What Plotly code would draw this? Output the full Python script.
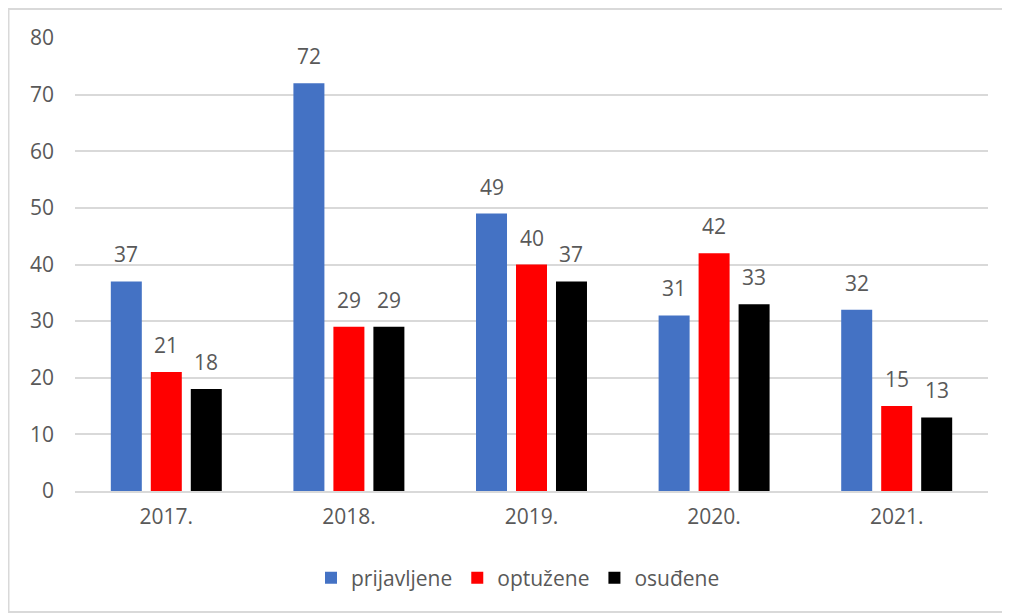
import plotly.graph_objects as go

years = ["2017.", "2018.", "2019.", "2020.", "2021."]
prijavljene = [37, 72, 49, 31, 32]
optuzene = [21, 29, 40, 42, 15]
osudjene = [18, 29, 37, 33, 13]
series_names = ["prijavljene", "optužene", "osuđene"]
colors = ["#4472C4", "#FF0000", "#000000"]
y_ticks = [0, 10, 20, 30, 40, 50, 60, 70, 80]

# page is offset by the 8px body margin
OFF = 8
W, H = 1010 - OFF, 616 - OFF
L, R, T, B = 75 - OFF, 22, 38 - OFF, 125
pw, ph = W - L - R, H - T - B

def px_x(x):  # page px -> paper
    return (x - OFF - L) / pw

def px_y(y):
    return (H - B - (y - OFF)) / ph

font_color = "#595959"
fnt = "Open Sans"
FS = 21

cat_w = pw / len(years)
bargap = 0.343
slot = cat_w * (1 - bargap) / 3

fig = go.Figure()
annotations = []
for i, (name, vals, col) in enumerate(zip(series_names, [prijavljene, optuzene, osudjene], colors)):
    fig.add_trace(go.Bar(
        x=years, y=vals, name=name, marker_color=col, marker_line_width=0,
    ))
    for k, v in enumerate(vals):
        annotations.append(dict(
            x=k, y=v, xref="x", yref="y", text=str(v), showarrow=False,
            xanchor="center", yanchor="bottom", xshift=(i - 1) * slot, yshift=11,
            font=dict(size=FS, color=font_color, family=fnt),
        ))

fig.update_layout(
    width=W, height=H,
    margin=dict(l=L, r=R, t=T, b=B),
    paper_bgcolor="white", plot_bgcolor="white",
    barmode="group", bargap=bargap, bargroupgap=0.225,
    font=dict(family=fnt, color=font_color, size=FS),
    showlegend=True,
    legend=dict(orientation="h", x=px_x(518), xanchor="center", y=px_y(578), yanchor="middle",
                font=dict(size=FS, color=font_color, family=fnt), itemwidth=30,
                traceorder="normal"),
    xaxis=dict(type="category", showgrid=False, showline=True, linecolor="#d9d9d9", linewidth=2,
               ticks="", tickfont=dict(size=FS, color=font_color), ticklabelstandoff=6),
    yaxis=dict(range=[0, 80], tickvals=y_ticks, showgrid=True, gridcolor="#d9d9d9", gridwidth=2,
               zeroline=False, showline=False, ticks="",
               tickfont=dict(size=FS, color=font_color), ticklabelstandoff=20),
    annotations=annotations,
    shapes=[dict(type="rect", xref="paper", yref="paper",
                 x0=px_x(8.5), x1=px_x(1008), y0=px_y(612), y1=px_y(9),
                 line=dict(color="#d9d9d9", width=2), fillcolor="rgba(0,0,0,0)", layer="below")],
)

fig.write_html("out.html")
